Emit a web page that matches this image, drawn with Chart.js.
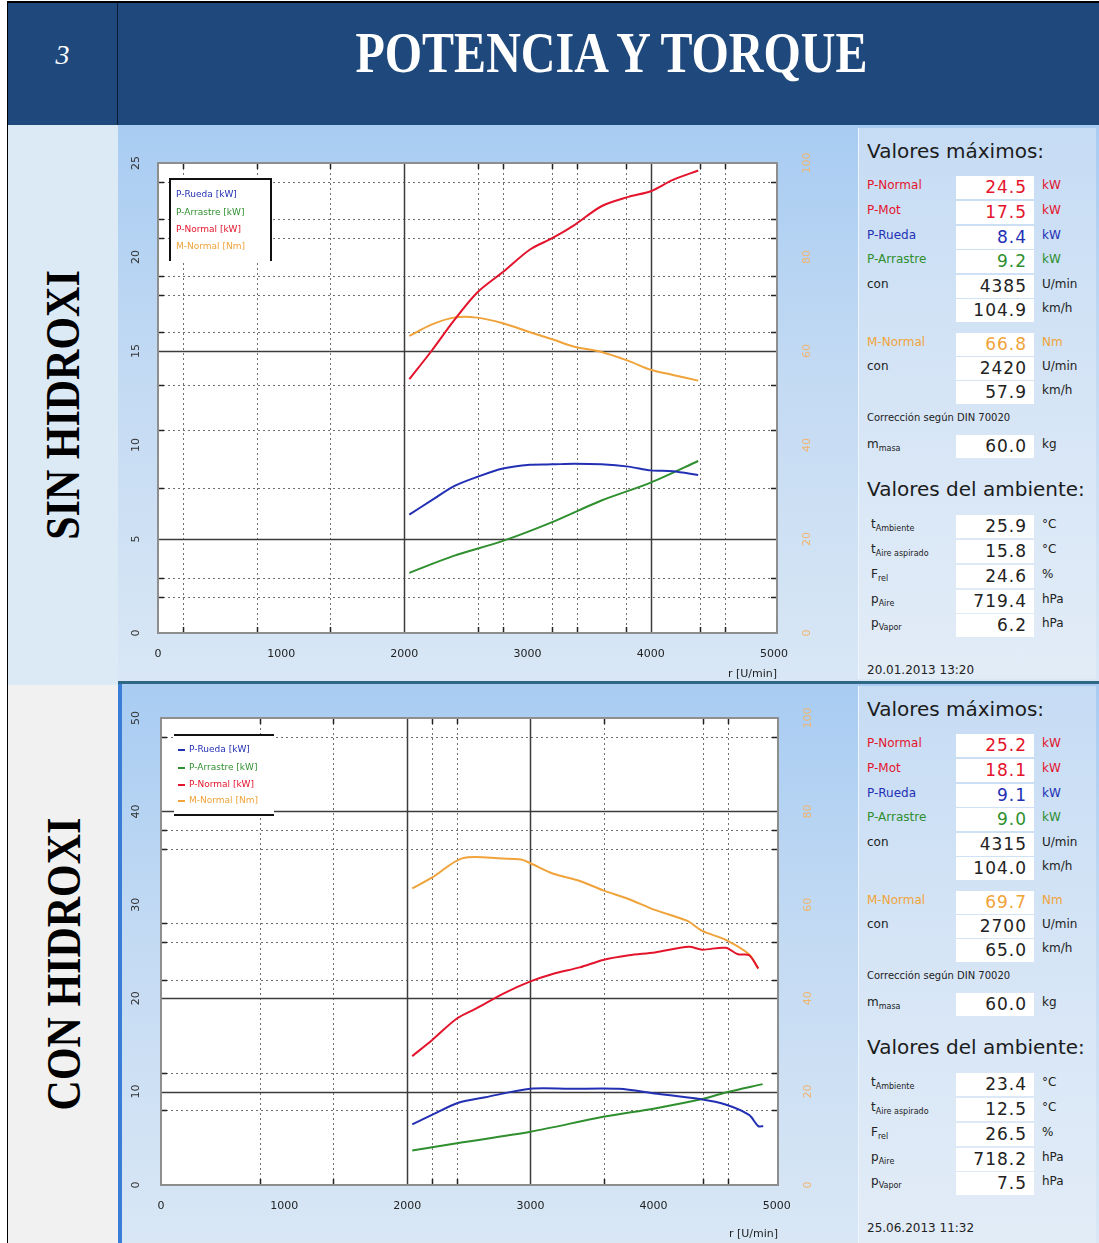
<!DOCTYPE html>
<html>
<head>
<meta charset="utf-8">
<script src="https://cdn.jsdelivr.net/npm/chart.js@4.4.0/dist/chart.umd.min.js"></script>
<style>
  body { margin: 0; width: 1099px; height: 1243px; position: relative; overflow: hidden; background: #fff; font-family: "DejaVu Sans", sans-serif; }
  .abs { position: absolute; }
  .hdr { background: #1f497c; color: #fff; font-family: "Liberation Serif", serif; display: flex; align-items: center; justify-content: center; }
  .side { display: flex; align-items: center; justify-content: center; }
  .side span { font-family: "Liberation Serif", serif; font-weight: bold; font-size: 42px; white-space: nowrap; transform: rotate(-90deg) scaleY(1.15); color: #000; }
  .panel { background: linear-gradient(180deg, #a8ccf2 0%, #c3daf3 45%, #d9e7f5 100%); }
  .info { background: linear-gradient(180deg, #c6dcf4 0%, #d6e5f6 50%, #e2ecf7 100%); border-left: 1px solid #eef4fb; }
  .ttl { font-size: 20px; color: #1c1c1c; white-space: nowrap; }
  .lbl { font-size: 12px; white-space: nowrap; }
  .lbl sub { font-size: 8px; }
  .val { background: #fff; text-align: right; font-family: "DejaVu Sans", sans-serif; font-size: 17px; padding-right: 7px; box-sizing: border-box; line-height: 23px; letter-spacing: 1px; }
  .unit { font-size: 12px; white-space: nowrap; }
  canvas { position: absolute; }
</style>
</head>
<body>
<!-- header -->
<div class="abs" style="left:7px;top:1px;width:1092px;height:2px;background:#000"></div>
<div class="abs" style="left:7px;top:1px;width:1px;height:1242px;background:#000"></div>
<div class="abs hdr" style="left:8px;top:3px;width:109px;height:104px;font-style:italic;font-size:28px">3</div>
<div class="abs" style="left:8px;top:107px;width:109px;height:18px;background:#1f497c"></div>
<div class="abs" style="left:117px;top:3px;width:1px;height:122px;background:#0c1c30"></div>
<div class="abs hdr" style="left:118px;top:3px;width:981px;height:98px;font-weight:bold;font-size:48px"><span style="transform:scaleY(1.17);display:inline-block;margin-left:6px">POTENCIA Y TORQUE</span></div>
<div class="abs" style="left:118px;top:101px;width:981px;height:24px;background:#1f497c"></div>

<!-- side labels -->
<div class="abs side" style="left:8px;top:125px;width:110px;height:560px;background:#dbeaf4"><span>SIN HIDROXI</span></div>
<div class="abs side" style="left:8px;top:685px;width:110px;height:558px;background:#f1f1f1"><span>CON HIDROXI</span></div>

<!-- panels -->
<div class="abs panel" style="left:118px;top:125px;width:981px;height:556px"></div>
<div class="abs" style="left:118px;top:681px;width:981px;height:3px;background:#2f6884"></div>
<div class="abs panel" style="left:118px;top:684px;width:981px;height:559px;border-left:4px solid #3a7dd6;box-sizing:border-box"></div>
<div class="abs info" id="infoSin" style="left:858px;top:128px;width:237px;height:551px"></div>
<div class="abs info" id="infoCon" style="left:858px;top:686px;width:237px;height:557px"></div>

<canvas id="cSin" width="738" height="556" style="left:120px;top:127px"></canvas>
<canvas id="cCon" width="736" height="557" style="left:122px;top:686px"></canvas>

<script>
// ---- axis ticks ----
const rpmTicks = [0, 1000, 2000, 3000, 4000, 5000];
const kwTicksSin = [0, 5, 10, 15, 20, 25];
const kwTicksCon = [0, 10, 20, 30, 40, 50];
const nmTicks = [0, 20, 40, 60, 80, 100];

// ---- grid lines ----
const gridDotXSin = [200, 800, 1400, 2600, 2800, 3200, 3400, 3800, 4400, 4600];
const gridSolidXSin = [2000, 4000];
const gridDotYSin = [24, 22, 21, 19, 18, 16, 13.2, 10.8, 7.7, 2.9, 1.9];
const gridSolidYSin = [5, 15];
const gridDotXCon = [800, 1400, 2200, 2400, 3600, 4400, 4600];
const gridSolidXCon = [2000, 3000];
const gridDotYCon = [48, 38, 36, 28, 26, 22, 12, 8];
const gridSolidYCon = [10, 20, 40];

// ---- SIN HIDROXI curves ----
const rpmSin = [2040, 2220, 2400, 2590, 2800, 3020, 3200, 3380, 3600, 3820, 4000, 4180, 4385];
const pNormalSin = [13.5, 15.0, 16.6, 18.1, 19.2, 20.4, 21.0, 21.7, 22.7, 23.2, 23.5, 24.1, 24.6];
const mNormalSin = [63.2, 65.6, 67.1, 67.1, 65.9, 64.0, 62.5, 60.9, 59.8, 57.9, 56.0, 54.9, 53.7];
const pRuedaSin = [6.3, 7.05, 7.8, 8.3, 8.75, 8.95, 8.97, 9.0, 8.97, 8.85, 8.65, 8.6, 8.4];
const rpmArrSin = [2040, 2400, 2800, 3200, 3600, 4000, 4385];
const pArrastreSin = [3.2, 4.1, 4.9, 5.9, 7.05, 8.0, 9.15];

// ---- CON HIDROXI curves ----
const rpmMCon = [2040, 2200, 2450, 2780, 2925, 3000, 3180, 3400, 3590, 3800, 4010, 4270, 4395, 4585, 4775, 4850];
const mNormalCon = [63.5, 65.8, 70.0, 69.9, 69.7, 68.9, 66.7, 65.1, 63.1, 61.2, 58.9, 56.6, 54.4, 52.5, 49.4, 46.3];
const rpmPCon = [2040, 2200, 2400, 2560, 2780, 3000, 3180, 3400, 3590, 3800, 4010, 4285, 4395, 4585, 4685, 4775, 4850];
const pNormalCon = [13.8, 15.5, 17.8, 18.9, 20.5, 21.8, 22.6, 23.3, 24.1, 24.6, 24.9, 25.5, 25.2, 25.4, 24.7, 24.6, 23.2];
const rpmRCon = [2040, 2200, 2415, 2635, 3000, 3320, 3720, 4010, 4375, 4590, 4775, 4850, 4890];
const pRuedaCon = [6.5, 7.5, 8.8, 9.4, 10.3, 10.3, 10.3, 9.8, 9.2, 8.6, 7.5, 6.3, 6.3];
const rpmACon = [2040, 2415, 3000, 3590, 4010, 4395, 4585, 4885];
const pArrastreCon = [3.7, 4.5, 5.7, 7.3, 8.2, 9.2, 9.9, 10.8];

const seriesNames = ['P-Rueda [kW]', 'P-Arrastre [kW]', 'P-Normal [kW]', 'M-Normal [Nm]'];

// ---- tables ----
const maxLabels = ['P-Normal', 'P-Mot', 'P-Rueda', 'P-Arrastre', 'con', ''];
const maxUnits = ['kW', 'kW', 'kW', 'kW', 'U/min', 'km/h'];
const maxSin = ['24.5', '17.5', '8.4', '9.2', '4385', '104.9'];
const maxCon = ['25.2', '18.1', '9.1', '9.0', '4315', '104.0'];
const torqueLabels = ['M-Normal', 'con', ''];
const torqueUnits = ['Nm', 'U/min', 'km/h'];
const torqueSin = ['66.8', '2420', '57.9'];
const torqueCon = ['69.7', '2700', '65.0'];
const massSin = '60.0';
const massCon = '60.0';
const envLabels = [['t', 'Ambiente'], ['t', 'Aire aspirado'], ['F', 'rel'], ['p', 'Aire'], ['p', 'Vapor']];
const envUnits = ['°C', '°C', '%', 'hPa', 'hPa'];
const envSin = ['25.9', '15.8', '24.6', '719.4', '6.2'];
const envCon = ['23.4', '12.5', '26.5', '718.2', '7.5'];
const fechaSin = '20.01.2013 13:20';
const fechaCon = '25.06.2013 11:32';

const colBlue = '#2330b4', colGreen = '#2f8f2f', colRed = '#e3142c', colOrange = '#f0a33a';
const maxColors = [colRed, colRed, colBlue, colGreen, '#222', '#222'];

// build a side table
function buildInfo(el, top, maxVals, torqueVals, mass, envVals, fecha) {
    let html = '';
    const put = (y, cls, style, txt) => {
        html += `<div class="abs ${cls}" style="top:${y - top - 3}px;${style}">${txt}</div>`;
    };
    put(top + 14, 'ttl', 'left:8px', 'Valores máximos:');
    const rowY = [61, 86, 111, 135, 160, 184];
    maxLabels.forEach((l, i) => {
        const y = top + rowY[i];
        put(y - 8, 'lbl', `left:8px;color:${maxColors[i]}`, l);
        put(y - 10, 'val', `left:97px;width:78px;height:23px;color:${maxColors[i]}`, maxVals[i]);
        put(y - 8, 'unit', `left:183px;color:${maxColors[i]}`, maxUnits[i]);
    });
    const tY = [218, 242, 266];
    torqueLabels.forEach((l, i) => {
        const y = top + tY[i];
        const c = i === 0 ? colOrange : '#222';
        put(y - 8, 'lbl', `left:8px;color:${c}`, l);
        put(y - 10, 'val', `left:97px;width:78px;height:23px;color:${c}`, torqueVals[i]);
        put(y - 8, 'unit', `left:183px;color:${c}`, torqueUnits[i]);
    });
    put(top + 287, 'lbl', 'left:8px;font-size:10px;color:#222', 'Corrección según DIN 70020');
    put(top + 312, 'lbl', 'left:8px;color:#222', 'm<sub>masa</sub>');
    put(top + 310, 'val', 'left:97px;width:78px;height:23px;color:#222', mass);
    put(top + 312, 'unit', 'left:183px;color:#222', 'kg');
    put(top + 352, 'ttl', 'left:8px', 'Valores del ambiente:');
    const eY = [400, 425, 450, 475, 499];
    envLabels.forEach((l, i) => {
        const y = top + eY[i];
        put(y - 8, 'lbl', 'left:12px;color:#222', `${l[0]}<sub>${l[1]}</sub>`);
        put(y - 10, 'val', 'left:97px;width:78px;height:23px;color:#222', envVals[i]);
        put(y - 8, 'unit', 'left:183px;color:#222', envUnits[i]);
    });
    put(top + 538, 'lbl', 'left:8px;color:#222', fecha);
    el.innerHTML = html;
}
buildInfo(document.getElementById('infoSin'), 128, maxSin, torqueSin, massSin, envSin, fechaSin);
buildInfo(document.getElementById('infoCon'), 683, maxCon, torqueCon, massCon, envCon, fechaCon);

// white plot area, grid lines and frame
const plotFrame = {
    id: 'plotFrame',
    beforeDraw(chart) {
        const { ctx, chartArea: a } = chart;
        ctx.save();
        ctx.fillStyle = '#fff';
        ctx.fillRect(a.left, a.top, a.right - a.left, a.bottom - a.top);
        ctx.restore();
    },
    beforeDatasetsDraw(chart, args, o) {
        const { ctx, chartArea: a, scales } = chart;
        ctx.save();
        const hLine = (v, solid) => {
            const y = Math.round(scales.y.getPixelForValue(v)) + 0.5;
            ctx.beginPath();
            ctx.setLineDash(solid ? [] : [2, 3]);
            ctx.strokeStyle = solid ? '#3c3c3c' : '#707070';
            ctx.lineWidth = solid ? 1.5 : 1;
            ctx.moveTo(a.left, y); ctx.lineTo(a.right, y); ctx.stroke();
            if (!solid) {
                ctx.setLineDash([]);
                ctx.strokeStyle = '#222';
                ctx.lineWidth = 1.5;
                ctx.beginPath();
                ctx.moveTo(a.left, y); ctx.lineTo(a.left + 6, y);
                ctx.moveTo(a.right - 6, y); ctx.lineTo(a.right, y);
                ctx.stroke();
            }
        };
        const vLine = (v, solid) => {
            const x = Math.round(scales.x.getPixelForValue(v)) + 0.5;
            ctx.beginPath();
            ctx.setLineDash(solid ? [] : [2, 3]);
            ctx.strokeStyle = solid ? '#3c3c3c' : '#707070';
            ctx.lineWidth = solid ? 1.5 : 1;
            ctx.moveTo(x, a.top); ctx.lineTo(x, a.bottom); ctx.stroke();
            if (!solid) {
                ctx.setLineDash([]);
                ctx.strokeStyle = '#222';
                ctx.lineWidth = 1.5;
                ctx.beginPath();
                ctx.moveTo(x, a.top); ctx.lineTo(x, a.top + 6);
                ctx.moveTo(x, a.bottom - 6); ctx.lineTo(x, a.bottom);
                ctx.stroke();
            }
        };
        o.dotY.forEach(v => hLine(v, false));
        o.dotX.forEach(v => vLine(v, false));
        o.solidY.forEach(v => hLine(v, true));
        o.solidX.forEach(v => vLine(v, true));
        ctx.setLineDash([]);
        ctx.strokeStyle = '#8e8e8e';
        ctx.lineWidth = 2;
        ctx.strokeRect(a.left, a.top, a.right - a.left, a.bottom - a.top);
        ctx.restore();
    }
};

// legend box inside the plot, top left
const boxLegend = {
    id: 'boxLegend',
    afterDatasetsDraw(chart, args, o) {
        const { ctx, chartArea: a } = chart;
        const x0 = a.left + o.dx, y0 = a.top + o.dy;
        ctx.save();
        ctx.fillStyle = '#fff';
        ctx.fillRect(x0, y0, o.w, o.h);
        ctx.strokeStyle = '#111';
        ctx.lineWidth = 2;
        ctx.beginPath();
        if (o.framed) {
            ctx.moveTo(x0, y0 + o.h); ctx.lineTo(x0, y0); ctx.lineTo(x0 + o.w, y0); ctx.lineTo(x0 + o.w, y0 + o.h);
        } else {
            ctx.moveTo(x0, y0); ctx.lineTo(x0 + o.w, y0);
            ctx.moveTo(x0, y0 + o.h); ctx.lineTo(x0 + o.w, y0 + o.h);
        }
        ctx.stroke();
        ctx.font = '9px "DejaVu Sans"';
        ctx.textBaseline = 'middle';
        chart.data.datasets.forEach((ds, i) => {
            const y = y0 + o.rows[i];
            ctx.fillStyle = ds.borderColor;
            let tx = x0 + 6;
            if (o.marks) {
                ctx.fillRect(x0 + 4, y - 1, 7, 2);
                tx = x0 + 15;
            }
            ctx.fillText(ds.label, tx, y);
        });
        ctx.restore();
    }
};

function lineSet(label, xs, ys, color, axis) {
    return {
        label: label,
        data: xs.map((x, i) => ({ x: x, y: ys[i] })),
        borderColor: color,
        backgroundColor: color,
        borderWidth: 2,
        pointRadius: 0,
        tension: 0.3,
        yAxisID: axis
    };
}

function makeChart(id, cfg) {
    return new Chart(document.getElementById(id), {
        type: 'line',
        data: { datasets: cfg.datasets },
        options: {
            responsive: false,
            animation: false,
            devicePixelRatio: 1,
            events: [],
            layout: { padding: { top: cfg.padTop, left: 0, right: 0, bottom: 0 }, autoPadding: false },
            plugins: {
                legend: { display: false },
                tooltip: { enabled: false },
                plotFrame: cfg.grid,
                boxLegend: cfg.legend
            },
            scales: {
                x: {
                    type: 'linear', min: 0, max: cfg.xMax,
                    afterBuildTicks: s => { s.ticks = rpmTicks.map(v => ({ value: v })); },
                    afterFit: s => { s.height = cfg.xHeight; },
                    grid: { display: false },
                    border: { display: false },
                    ticks: { padding: 7, color: '#222', font: { size: 11, family: 'DejaVu Sans' }, callback: v => String(v), maxRotation: 0 },
                    title: { display: true, text: 'r [U/min]', align: 'end', color: '#222', font: { size: 11, family: 'DejaVu Sans' }, padding: { top: 0, bottom: 2 } }
                },
                y: {
                    position: 'left', min: 0, max: cfg.yMax,
                    afterBuildTicks: s => { s.ticks = cfg.yTicks.map(v => ({ value: v })); },
                    afterFit: s => { s.width = cfg.yWidth; },
                    grid: { display: false },
                    border: { display: false },
                    ticks: { minRotation: 90, maxRotation: 90, crossAlign: 'center', padding: cfg.yPad, color: '#333', font: { size: 11, family: 'DejaVu Sans' }, callback: v => String(v) }
                },
                yR: {
                    position: 'right', min: 0, max: 100,
                    afterBuildTicks: s => { s.ticks = nmTicks.map(v => ({ value: v })); },
                    afterFit: s => { s.width = cfg.yRWidth; },
                    grid: { display: false },
                    border: { display: false },
                    ticks: { minRotation: 90, maxRotation: 90, crossAlign: 'center', padding: cfg.yRPad, color: '#f1b46e', font: { size: 11, family: 'DejaVu Sans' }, callback: v => String(v) }
                }
            }
        },
        plugins: [plotFrame, boxLegend]
    });
}

makeChart('cSin', {
    datasets: [
        lineSet(seriesNames[0], rpmSin, pRuedaSin, colBlue, 'y'),
        lineSet(seriesNames[1], rpmArrSin, pArrastreSin, colGreen, 'y'),
        lineSet(seriesNames[2], rpmSin, pNormalSin, colRed, 'y'),
        lineSet(seriesNames[3], rpmSin, mNormalSin, colOrange, 'yR')
    ],
    padTop: 36, xMax: 5025, xHeight: 50, yMax: 25, yTicks: kwTicksSin,
    yWidth: 38, yPad: 7, yRWidth: 81, yRPad: 12,
    grid: { dotX: gridDotXSin, solidX: gridSolidXSin, dotY: gridDotYSin, solidY: gridSolidYSin },
    legend: { dx: 12, dy: 16, w: 101, h: 82, rows: [16, 34, 51, 68], framed: true, marks: false }
});

makeChart('cCon', {
    datasets: [
        lineSet(seriesNames[0], rpmRCon, pRuedaCon, colBlue, 'y'),
        lineSet(seriesNames[1], rpmACon, pArrastreCon, colGreen, 'y'),
        lineSet(seriesNames[2], rpmPCon, pNormalCon, colRed, 'y'),
        lineSet(seriesNames[3], rpmMCon, mNormalCon, colOrange, 'yR')
    ],
    padTop: 32, xMax: 5010, xHeight: 58, yMax: 50, yTicks: kwTicksCon,
    yWidth: 39, yPad: 10, yRWidth: 80, yRPad: 12,
    grid: { dotX: gridDotXCon, solidX: gridSolidXCon, dotY: gridDotYCon, solidY: gridSolidYCon },
    legend: { dx: 13, dy: 17, w: 100, h: 80, rows: [15, 33, 50, 66], framed: false, marks: true }
});
</script>
</body>
</html>
